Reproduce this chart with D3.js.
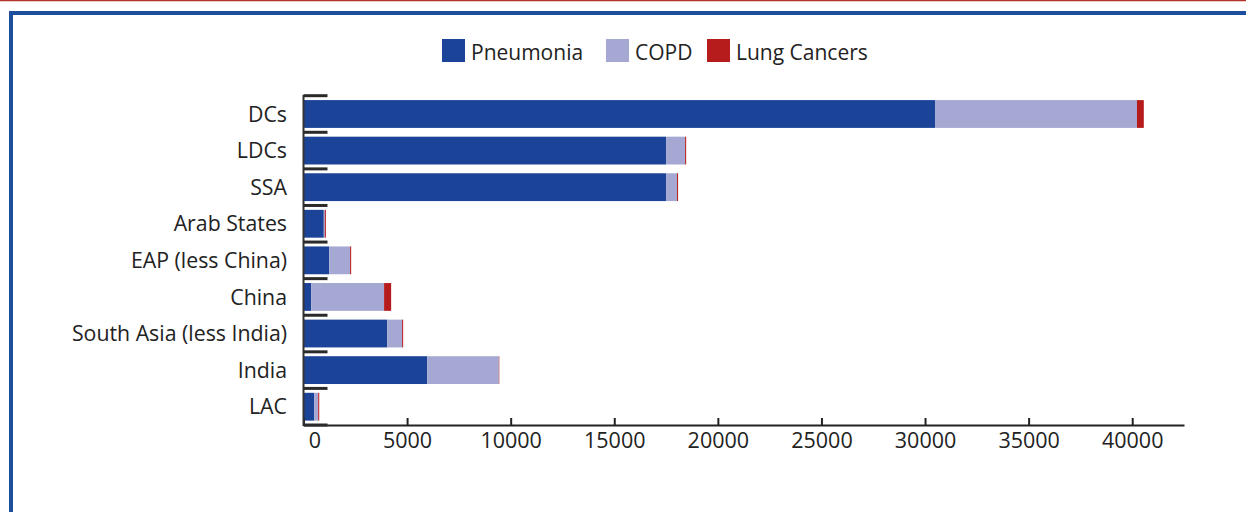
<!DOCTYPE html>
<html>
<head>
<meta charset="utf-8">
<script src="https://cdn.jsdelivr.net/npm/d3@7/dist/d3.min.js"></script>
<style>
  body { margin: 0; background: #fff; }
  svg { display: block; font-family: "Open Sans", "Noto Sans", sans-serif; }
</style>
</head>
<body>
<div id="chart"></div>
<script>
var w = 1246;
var h = 512;

// data
var regions = ["DCs", "LDCs", "SSA", "Arab States", "EAP (less China)", "China",
  "South Asia (less India)", "India", "LAC"];
var series = ["Pneumonia", "COPD", "Lung Cancers"];
var pneumonia = [30500, 17500, 17500, 980, 1240, 370, 4040, 5970, 520];
var copd = [9730, 920, 530, 50, 1010, 3520, 720, 3460, 190];
var lungCancers = [330, 50, 50, 50, 50, 340, 50, 20, 50];
var xTicks = [0, 5000, 10000, 15000, 20000, 25000, 30000, 35000, 40000];

var colors = ["#1b4398", "#a5a8d2", "#b71c1c"];

var rows = regions.map(function(r, i) {
  return { region: r, "Pneumonia": pneumonia[i], "COPD": copd[i], "Lung Cancers": lungCancers[i] };
});

var svg = d3.select("#chart").append("svg")
  .attr("width", w)
  .attr("height", h);

// page decorations: red rule and blue frame
svg.append("line")
  .attr("x1", 0).attr("x2", w).attr("y1", 0.5).attr("y2", 0.5)
  .attr("stroke", "#b3322a").attr("stroke-width", 1.5);
svg.append("path")
  .attr("d", "M11," + h + "V13H" + w)
  .attr("fill", "none")
  .attr("stroke", "#1d4f9e")
  .attr("stroke-width", 4);

var x = d3.scaleLinear().domain([0, 42500]).range([303.5, 1184]);
var y = d3.scaleBand().domain(regions).range([95.7, 425]).padding(0);

var stack = d3.stack().keys(series);
var layers = stack(rows);

var inset = y.bandwidth() * 0.12;

svg.selectAll("g.layer")
  .data(layers)
  .enter()
  .append("g")
  .attr("class", "layer")
  .attr("fill", function(d, i) { return colors[i]; })
  .selectAll("rect")
  .data(function(d) { return d; })
  .enter()
  .append("rect")
  .attr("x", function(d) { return x(d[0]); })
  .attr("y", function(d) { return y(d.data.region) + inset; })
  .attr("width", function(d) { return Math.max(0, x(d[1]) - x(d[0])); })
  .attr("height", y.bandwidth() - 2 * inset);

// x axis, ticks pointing up
var xAxis = svg.append("g")
  .attr("transform", "translate(0,425)")
  .call(d3.axisBottom(x).tickValues(xTicks).tickFormat(d3.format("d"))
    .tickSizeInner(-7).tickSizeOuter(0).tickPadding(8));
xAxis.select(".domain").attr("stroke", "#222").attr("stroke-width", 2);
xAxis.selectAll(".tick line").attr("stroke", "#222").attr("stroke-width", 2);
xAxis.selectAll(".tick text")
  .attr("fill", "#222")
  .attr("dx", function(d) { return d === 0 ? 11 : 0; })
  .style("font-size", "21.5px")
  .style("font-family", "'Open Sans', 'Noto Sans', sans-serif");

// y axis line
svg.append("line")
  .attr("x1", x(0)).attr("x2", x(0))
  .attr("y1", 95).attr("y2", 426)
  .attr("stroke", "#333").attr("stroke-width", 2);

// y ticks at band edges
var edges = regions.map(function(r) { return y(r); }).concat([y.range()[1]]);
svg.selectAll("line.ytick")
  .data(edges)
  .enter()
  .append("line")
  .attr("class", "ytick")
  .attr("x1", x(0)).attr("x2", x(0) + 24)
  .attr("y1", function(d) { return d; })
  .attr("y2", function(d) { return d; })
  .attr("stroke", "#2a2a2a").attr("stroke-width", 3);

// category labels
svg.selectAll("text.cat")
  .data(regions)
  .enter()
  .append("text")
  .attr("class", "cat")
  .attr("x", 287)
  .attr("y", function(d) { return y(d) + y.bandwidth() / 2; })
  .attr("dy", "0.36em")
  .attr("text-anchor", "end")
  .attr("fill", "#222")
  .style("font-size", "21.3px")
  .text(function(d) { return d; });

// legend
var legendX = [442, 606, 707];
var legend = svg.selectAll("g.legend")
  .data(series)
  .enter()
  .append("g")
  .attr("class", "legend")
  .attr("transform", function(d, i) { return "translate(" + legendX[i] + ",39)"; });
legend.append("rect")
  .attr("width", 23).attr("height", 23)
  .attr("fill", function(d, i) { return colors[i]; });
legend.append("text")
  .attr("x", 29).attr("y", 20.5)
  .attr("fill", "#222")
  .style("font-size", "21px")
  .text(function(d) { return d; });
</script>
</body>
</html>
